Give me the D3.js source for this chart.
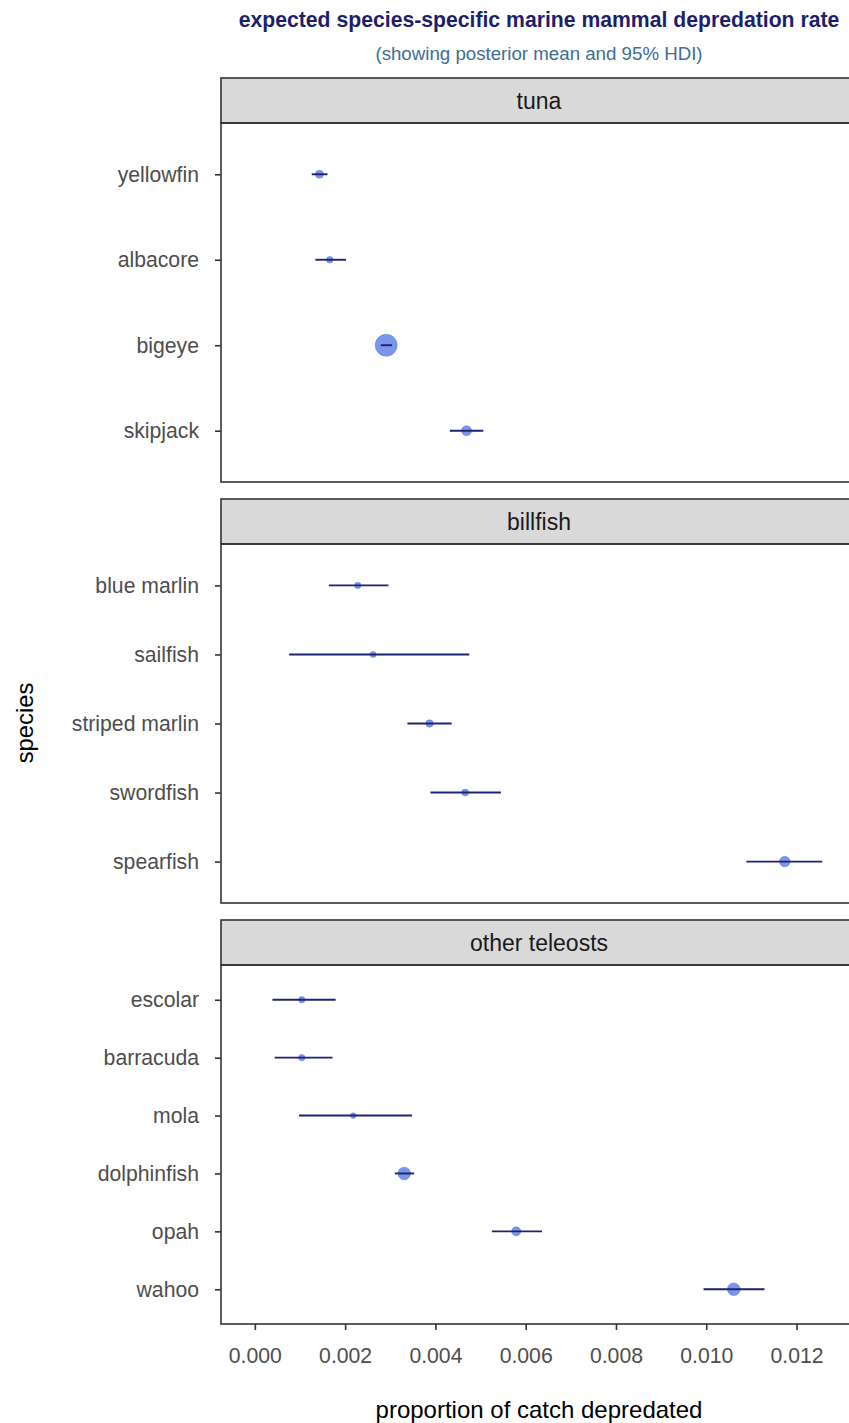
<html>
<head>
<title>depredation rate</title>
<script src="https://d3js.org/d3.v7.min.js"></script>
<style>
  body { margin: 0; background: #fff; }
  text { font-family: "Liberation Sans", Arial, sans-serif; }
</style>
</head>
<body>
<svg id="chart"></svg>
<script>

    // groups (facets) and the species in each, top to bottom
    var groups = ['tuna', 'billfish', 'other teleosts'];

    var tunaSpecies = ['yellowfin', 'albacore', 'bigeye', 'skipjack'];
    var tunaMean    = [0.00143, 0.00166, 0.00291, 0.00469];
    var tunaLower   = [0.00126, 0.00134, 0.00279, 0.00432];
    var tunaUpper   = [0.00161, 0.00202, 0.00304, 0.00506];
    var tunaWeight  = [16, 11, 121, 25];

    var billSpecies = ['blue marlin', 'sailfish', 'striped marlin', 'swordfish', 'spearfish'];
    var billMean    = [0.00228, 0.00262, 0.00387, 0.00466, 0.01174];
    var billLower   = [0.00164, 0.00076, 0.00338, 0.00389, 0.01089];
    var billUpper   = [0.00296, 0.00475, 0.00436, 0.00545, 0.01257];
    var billWeight  = [10, 9, 14, 12, 28];

    var otherSpecies = ['escolar', 'barracuda', 'mola', 'dolphinfish', 'opah', 'wahoo'];
    var otherMean    = [0.00104, 0.00104, 0.00218, 0.00331, 0.00579, 0.01061];
    var otherLower   = [0.00039, 0.00044, 0.00098, 0.00310, 0.00525, 0.00994];
    var otherUpper   = [0.00179, 0.00172, 0.00348, 0.00353, 0.00636, 0.01129];
    var otherWeight  = [10, 10, 8, 40, 21, 40];

    var xTicks = [0, 0.002, 0.004, 0.006, 0.008, 0.010, 0.012];

    var panels = [
        { name: groups[0], species: tunaSpecies, mean: tunaMean, lo: tunaLower, hi: tunaUpper, w: tunaWeight },
        { name: groups[1], species: billSpecies, mean: billMean, lo: billLower, hi: billUpper, w: billWeight },
        { name: groups[2], species: otherSpecies, mean: otherMean, lo: otherLower, hi: otherUpper, w: otherWeight }
    ];

    var width = 849, height = 1423;
    var left = 221, right = 857;
    var stripH = 45, panelH = 359, gap = 17, topY = 78;

    var svg = d3.select('#chart')
        .attr('width', width)
        .attr('height', height);

    var x = d3.scaleLinear()
        .domain([-0.00075, 0.01334])
        .range([left, right]);

    var r = d3.scaleSqrt()
        .domain([0, 121])
        .range([0, 11]);

    // title
    svg.append('text')
        .attr('x', 539).attr('y', 27)
        .attr('text-anchor', 'middle')
        .attr('font-size', 21.2)
        .attr('font-weight', 'bold')
        .attr('fill', '#1d1f6b')
        .text('expected species-specific marine mammal depredation rate');

    svg.append('text')
        .attr('x', 539).attr('y', 60)
        .attr('text-anchor', 'middle')
        .attr('font-size', 18.7)
        .attr('fill', '#3f6d94')
        .text('(showing posterior mean and 95% HDI)');

    panels.forEach(function (p, i) {
        var sTop = topY + i * (stripH + panelH + gap);
        var pTop = sTop + stripH;

        var y = d3.scalePoint()
            .domain(p.species)
            .range([pTop, pTop + panelH])
            .padding(0.6);

        // strip
        svg.append('rect')
            .attr('x', left).attr('y', sTop)
            .attr('width', right - left).attr('height', stripH)
            .attr('fill', '#d9d9d9')
            .attr('stroke', '#333333')
            .attr('stroke-width', 1.6);

        svg.append('text')
            .attr('x', (left + right) / 2)
            .attr('y', sTop + stripH / 2 + 8)
            .attr('text-anchor', 'middle')
            .attr('font-size', 23)
            .attr('fill', '#1a1a1a')
            .text(p.name);

        // panel border
        svg.append('rect')
            .attr('x', left).attr('y', pTop)
            .attr('width', right - left).attr('height', panelH)
            .attr('fill', 'none')
            .attr('stroke', '#333333')
            .attr('stroke-width', 1.6);

        // y axis
        var yAxis = svg.append('g')
            .attr('transform', 'translate(' + left + ',0)')
            .call(d3.axisLeft(y).tickSize(6).tickPadding(16));
        yAxis.select('.domain').remove();
        yAxis.selectAll('line').attr('stroke', '#333333').attr('stroke-width', 1.6);
        yAxis.selectAll('text')
            .attr('font-size', 21.2)
            .attr('fill', '#4d4d4d')
            .style('font-family', '"Liberation Sans", Arial, sans-serif');

        var rows = p.species.map(function (s, j) {
            return { s: s, mean: p.mean[j], lo: p.lo[j], hi: p.hi[j], w: p.w[j] };
        });

        var g = svg.append('g');

        g.selectAll('circle')
            .data(rows)
            .enter()
            .append('circle')
            .attr('cx', function (d) { return x(d.mean); })
            .attr('cy', function (d) { return y(d.s); })
            .attr('r', function (d) { return r(d.w); })
            .attr('fill', '#4169e1')
            .attr('fill-opacity', 0.7)
            .attr('stroke', '#4169e1')
            .attr('stroke-opacity', 0.4)
            .attr('stroke-width', 1);

        g.selectAll('line.hdi')
            .data(rows)
            .enter()
            .append('line')
            .attr('class', 'hdi')
            .attr('x1', function (d) { return x(d.lo); })
            .attr('x2', function (d) { return x(d.hi); })
            .attr('y1', function (d) { return y(d.s); })
            .attr('y2', function (d) { return y(d.s); })
            .attr('stroke', '#1f2270')
            .attr('stroke-width', 1.9);

        if (i === panels.length - 1) {
            var xAxis = svg.append('g')
                .attr('transform', 'translate(0,' + (pTop + panelH) + ')')
                .call(d3.axisBottom(x).tickValues(xTicks).tickFormat(d3.format('.3f')).tickSize(6).tickPadding(18));
            xAxis.select('.domain').remove();
            xAxis.selectAll('line').attr('stroke', '#333333').attr('stroke-width', 1.6);
            xAxis.selectAll('text')
                .attr('font-size', 21.2)
                .attr('fill', '#4d4d4d')
                .style('font-family', '"Liberation Sans", Arial, sans-serif');
        }
    });

    // axis titles
    svg.append('text')
        .attr('x', 539).attr('y', 1418)
        .attr('text-anchor', 'middle')
        .attr('font-size', 24)
        .attr('fill', '#000')
        .text('proportion of catch depredated');

    svg.append('text')
        .attr('transform', 'translate(33,723) rotate(-90)')
        .attr('text-anchor', 'middle')
        .attr('font-size', 23.8)
        .attr('fill', '#000')
        .text('species');

</script>
</body>
</html>
